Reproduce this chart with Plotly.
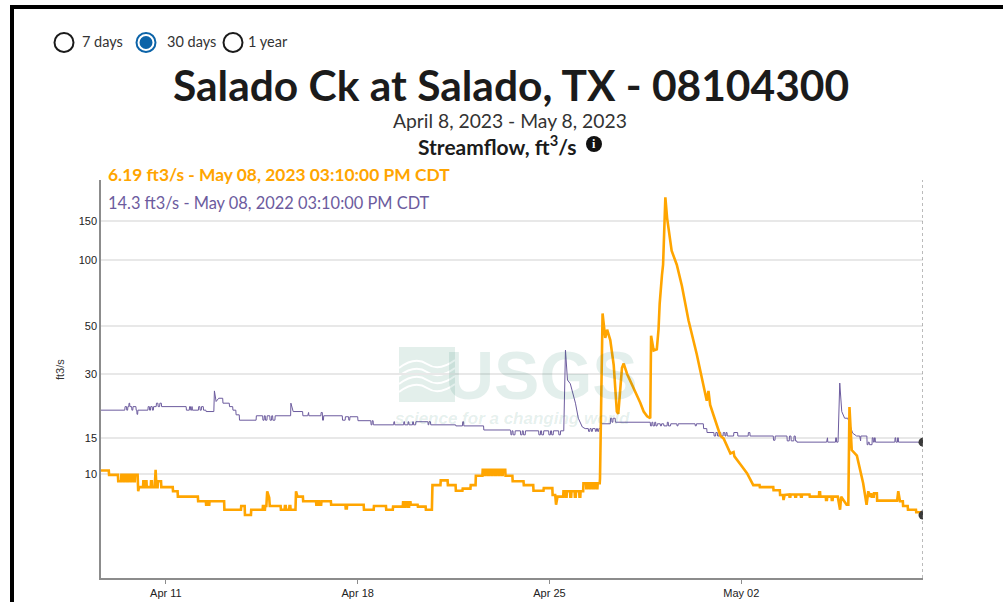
import math
import pandas as pd
import plotly.graph_objects as go

# ---------------- data ----------------
site_title = "Salado Ck at Salado, TX - 08104300"
period_text = "April 8, 2023 - May 8, 2023"
param_text = "Streamflow, ft<sup>3</sup>/s"
current_label = "6.19 ft3/s - May 08, 2023 03:10:00 PM CDT"
prior_label = "14.3 ft3/s - May 08, 2022 03:10:00 PM CDT"
period_options = ["7 days", "30 days", "1 year"]
y_tick_labels = [10, 15, 30, 50, 100, 150]
x_tick_dates = ["2023-04-11", "2023-04-18", "2023-04-25", "2023-05-02"]
x_tick_text = ["Apr 11", "Apr 18", "Apr 25", "May 02"]
x_start = "2023-04-08 15:10"
x_end = "2023-05-08 15:10"

# Streamflow 2023 (ft3/s)
flow_2023 = [
    ("2023-04-08 15:10", 10.4), ("2023-04-08 22:00", 10.4), ("2023-04-08 22:15", 9.9),
    ("2023-04-09 06:00", 9.9), ("2023-04-09 06:15", 9.2), ("2023-04-09 08:45", 9.2),
    ("2023-04-09 09:00", 9.9), ("2023-04-09 10:45", 9.9), ("2023-04-09 11:00", 9.2),
    ("2023-04-09 11:45", 9.2), ("2023-04-09 12:00", 9.9), ("2023-04-09 13:45", 9.9),
    ("2023-04-09 14:00", 9.2), ("2023-04-09 14:45", 9.2), ("2023-04-09 15:00", 9.9),
    ("2023-04-09 16:45", 9.9), ("2023-04-09 17:00", 9.2), ("2023-04-09 17:45", 9.2),
    ("2023-04-09 18:00", 9.9), ("2023-04-09 19:45", 9.9), ("2023-04-09 20:00", 9.2),
    ("2023-04-09 20:45", 9.2), ("2023-04-09 21:00", 9.9), ("2023-04-09 23:15", 9.9),
    ("2023-04-09 23:45", 8.2), ("2023-04-10 00:30", 8.6), ("2023-04-10 04:00", 8.6),
    ("2023-04-10 04:15", 9.2), ("2023-04-10 05:00", 9.2), ("2023-04-10 05:15", 8.6),
    ("2023-04-10 06:00", 8.6), ("2023-04-10 06:15", 9.2), ("2023-04-10 07:00", 9.2),
    ("2023-04-10 07:15", 8.6), ("2023-04-10 10:45", 8.6), ("2023-04-10 11:00", 9.2),
    ("2023-04-10 11:45", 9.2), ("2023-04-10 12:00", 8.6), ("2023-04-10 14:15", 8.6),
    ("2023-04-10 15:00", 10.5), ("2023-04-10 15:45", 8.6), ("2023-04-10 16:45", 8.6),
    ("2023-04-10 17:00", 9.2), ("2023-04-10 19:45", 9.2), ("2023-04-10 20:00", 8.6),
    ("2023-04-11 06:00", 8.6), ("2023-04-11 06:15", 8.2), ("2023-04-11 10:15", 8.2),
    ("2023-04-11 10:30", 7.7), ("2023-04-12 04:00", 7.7), ("2023-04-12 04:15", 7.3),
    ("2023-04-12 11:00", 7.3), ("2023-04-12 11:15", 7.0), ("2023-04-12 12:00", 7.0),
    ("2023-04-12 12:15", 7.3), ("2023-04-12 13:00", 7.3), ("2023-04-12 13:15", 7.0),
    ("2023-04-12 14:00", 7.0), ("2023-04-12 14:15", 7.3), ("2023-04-13 03:00", 7.3),
    ("2023-04-13 03:15", 6.6), ("2023-04-13 17:45", 6.6), ("2023-04-13 18:00", 6.9),
    ("2023-04-13 21:00", 6.9), ("2023-04-13 21:15", 6.2), ("2023-04-14 02:30", 6.2),
    ("2023-04-14 02:45", 6.6), ("2023-04-14 12:45", 6.6), ("2023-04-14 13:00", 6.9),
    ("2023-04-14 13:45", 6.9), ("2023-04-14 14:00", 6.6), ("2023-04-14 14:45", 6.6),
    ("2023-04-14 15:00", 6.9), ("2023-04-14 16:00", 6.9), ("2023-04-14 16:45", 8.2),
    ("2023-04-14 18:30", 7.6), ("2023-04-14 19:00", 6.9), ("2023-04-15 04:30", 6.9),
    ("2023-04-15 04:45", 6.6), ("2023-04-15 08:00", 6.6), ("2023-04-15 08:15", 6.9),
    ("2023-04-15 09:00", 6.9), ("2023-04-15 09:15", 6.6), ("2023-04-15 12:00", 6.6),
    ("2023-04-15 12:15", 6.9), ("2023-04-15 13:00", 6.9), ("2023-04-15 13:15", 6.6),
    ("2023-04-15 17:30", 6.6), ("2023-04-15 18:00", 8.2), ("2023-04-15 19:15", 7.7),
    ("2023-04-16 00:00", 7.7), ("2023-04-16 00:15", 7.3), ("2023-04-16 11:30", 7.3),
    ("2023-04-16 11:45", 7.0), ("2023-04-16 13:00", 7.0), ("2023-04-16 13:15", 7.3),
    ("2023-04-16 14:00", 7.3), ("2023-04-16 14:15", 7.0), ("2023-04-16 16:00", 7.0),
    ("2023-04-16 16:15", 7.3), ("2023-04-17 00:30", 7.3), ("2023-04-17 00:45", 7.0),
    ("2023-04-17 13:15", 7.0), ("2023-04-17 13:30", 6.7), ("2023-04-17 14:30", 6.7),
    ("2023-04-17 14:45", 7.0), ("2023-04-18 05:15", 7.0), ("2023-04-18 05:30", 6.6),
    ("2023-04-18 14:00", 6.6), ("2023-04-18 14:15", 6.9), ("2023-04-19 00:45", 6.9),
    ("2023-04-19 01:00", 6.6), ("2023-04-19 06:45", 6.6), ("2023-04-19 07:00", 6.85),
    ("2023-04-19 15:30", 6.85), ("2023-04-19 15:45", 7.2), ("2023-04-19 17:00", 7.2),
    ("2023-04-19 17:15", 6.85), ("2023-04-19 18:00", 6.85), ("2023-04-19 18:15", 7.2),
    ("2023-04-19 20:00", 7.2), ("2023-04-19 20:15", 6.85), ("2023-04-19 21:00", 6.85),
    ("2023-04-19 21:15", 7.2), ("2023-04-19 22:15", 7.2), ("2023-04-19 22:30", 7.0),
    ("2023-04-20 04:30", 7.0), ("2023-04-20 04:45", 6.85), ("2023-04-20 11:30", 6.85),
    ("2023-04-20 11:45", 6.6), ("2023-04-20 17:00", 6.6), ("2023-04-20 17:30", 8.8),
    ("2023-04-21 00:30", 8.8), ("2023-04-21 00:45", 9.3), ("2023-04-21 06:45", 9.3),
    ("2023-04-21 07:00", 8.8), ("2023-04-21 13:45", 8.8), ("2023-04-21 14:00", 8.25),
    ("2023-04-21 19:45", 8.25), ("2023-04-21 20:00", 8.45), ("2023-04-22 02:45", 8.45),
    ("2023-04-22 03:00", 8.8), ("2023-04-22 07:15", 8.8), ("2023-04-22 07:30", 9.8),
    ("2023-04-22 13:15", 9.8), ("2023-04-22 13:30", 10.5), ("2023-04-22 15:00", 10.5),
    ("2023-04-22 15:15", 9.9), ("2023-04-22 16:00", 9.9), ("2023-04-22 16:15", 10.5),
    ("2023-04-22 18:00", 10.5), ("2023-04-22 18:15", 9.9), ("2023-04-22 19:00", 9.9),
    ("2023-04-22 19:15", 10.5), ("2023-04-22 21:00", 10.5), ("2023-04-22 21:15", 9.9),
    ("2023-04-22 22:00", 9.9), ("2023-04-22 22:15", 10.5), ("2023-04-23 00:00", 10.5),
    ("2023-04-23 00:15", 9.9), ("2023-04-23 01:00", 9.9), ("2023-04-23 01:15", 10.5),
    ("2023-04-23 03:00", 10.5), ("2023-04-23 03:15", 9.9), ("2023-04-23 04:00", 9.9),
    ("2023-04-23 04:15", 10.5), ("2023-04-23 06:00", 10.5), ("2023-04-23 06:15", 9.9),
    ("2023-04-23 07:00", 9.9), ("2023-04-23 07:15", 10.5), ("2023-04-23 09:15", 10.5),
    ("2023-04-23 09:30", 9.8), ("2023-04-23 15:30", 9.8), ("2023-04-23 15:45", 9.2),
    ("2023-04-24 01:15", 9.2), ("2023-04-24 01:30", 8.8), ("2023-04-24 09:45", 8.8),
    ("2023-04-24 10:00", 8.25), ("2023-04-24 18:45", 8.25), ("2023-04-24 19:00", 8.5),
    ("2023-04-25 02:30", 8.5), ("2023-04-25 02:45", 7.85), ("2023-04-25 05:00", 7.85),
    ("2023-04-25 05:45", 7.0), ("2023-04-25 07:00", 7.7), ("2023-04-25 12:00", 7.7),
    ("2023-04-25 12:15", 8.2), ("2023-04-25 14:00", 8.2), ("2023-04-25 14:15", 7.7),
    ("2023-04-25 15:00", 7.7), ("2023-04-25 15:15", 8.2), ("2023-04-25 18:00", 8.2),
    ("2023-04-25 18:15", 7.7), ("2023-04-25 19:00", 7.7), ("2023-04-25 19:15", 8.2),
    ("2023-04-25 22:00", 8.2), ("2023-04-25 22:15", 7.7), ("2023-04-25 23:00", 7.7),
    ("2023-04-25 23:15", 8.2), ("2023-04-26 02:00", 8.2), ("2023-04-26 02:15", 7.7),
    ("2023-04-26 03:00", 7.7), ("2023-04-26 03:15", 8.2), ("2023-04-26 05:30", 8.2),
    ("2023-04-26 05:45", 9.0), ("2023-04-26 08:00", 9.0), ("2023-04-26 08:15", 8.5),
    ("2023-04-26 09:00", 8.5), ("2023-04-26 09:15", 9.0), ("2023-04-26 11:00", 9.0),
    ("2023-04-26 11:15", 8.5), ("2023-04-26 12:00", 8.5), ("2023-04-26 12:15", 9.0),
    ("2023-04-26 14:00", 9.0), ("2023-04-26 14:15", 8.5), ("2023-04-26 15:00", 8.5),
    ("2023-04-26 15:15", 9.0), ("2023-04-26 17:00", 9.0), ("2023-04-26 17:15", 8.5),
    ("2023-04-26 18:00", 8.5), ("2023-04-26 18:15", 9.0), ("2023-04-26 20:00", 9.0),
    ("2023-04-26 20:15", 9.5), ("2023-04-26 22:30", 57), ("2023-04-27 00:50", 44),
    ("2023-04-27 02:30", 48), ("2023-04-27 05:15", 43), ("2023-04-27 08:15", 33),
    ("2023-04-27 11:00", 20.0), ("2023-04-27 12:15", 19.5), ("2023-04-27 15:30", 32),
    ("2023-04-27 17:00", 33.5), ("2023-04-27 20:00", 30), ("2023-04-28 01:30", 26),
    ("2023-04-28 07:30", 22), ("2023-04-28 10:30", 20), ("2023-04-28 13:30", 19),
    ("2023-04-28 16:15", 18.6), ("2023-04-28 17:00", 45), ("2023-04-28 19:15", 38.5),
    ("2023-04-28 22:00", 39), ("2023-04-28 23:30", 48), ("2023-04-29 00:30", 63),
    ("2023-04-29 02:30", 85), ("2023-04-29 03:30", 95), ("2023-04-29 05:30", 192),
    ("2023-04-29 07:00", 155), ("2023-04-29 11:00", 110), ("2023-04-29 13:15", 101),
    ("2023-04-29 15:30", 95), ("2023-04-29 20:00", 76), ("2023-04-30 01:45", 53),
    ("2023-04-30 09:00", 37), ("2023-04-30 14:45", 27), ("2023-04-30 17:45", 22.5),
    ("2023-04-30 19:15", 25), ("2023-04-30 20:45", 21.5), ("2023-05-01 00:00", 19),
    ("2023-05-01 05:45", 15.3), ("2023-05-01 08:30", 14.9), ("2023-05-01 14:30", 12.6),
    ("2023-05-01 17:15", 12.8), ("2023-05-01 18:00", 12.2), ("2023-05-01 23:00", 11.2),
    ("2023-05-02 05:00", 10.1), ("2023-05-02 10:30", 8.8), ("2023-05-02 16:00", 8.8),
    ("2023-05-02 16:15", 8.6), ("2023-05-03 04:00", 8.6), ("2023-05-03 04:15", 8.3),
    ("2023-05-03 09:45", 8.3), ("2023-05-03 10:00", 7.85), ("2023-05-03 12:30", 7.85),
    ("2023-05-03 13:00", 7.4), ("2023-05-03 14:00", 7.85), ("2023-05-03 18:00", 7.9),
    ("2023-05-03 18:15", 7.7), ("2023-05-03 19:00", 7.7), ("2023-05-03 19:15", 7.9),
    ("2023-05-03 23:00", 7.9), ("2023-05-03 23:15", 7.7), ("2023-05-04 00:00", 7.7),
    ("2023-05-04 00:15", 7.9), ("2023-05-04 04:00", 7.9), ("2023-05-04 04:15", 7.7),
    ("2023-05-04 05:00", 7.7), ("2023-05-04 05:15", 7.9), ("2023-05-04 11:45", 7.9),
    ("2023-05-04 12:00", 7.7), ("2023-05-04 20:00", 7.7), ("2023-05-04 20:15", 8.1),
    ("2023-05-04 21:00", 8.1), ("2023-05-04 21:15", 7.7), ("2023-05-05 02:00", 7.7),
    ("2023-05-05 02:15", 7.4), ("2023-05-05 03:00", 7.4), ("2023-05-05 03:15", 7.7),
    ("2023-05-05 07:00", 7.7), ("2023-05-05 07:15", 7.4), ("2023-05-05 08:00", 7.4),
    ("2023-05-05 08:15", 7.7), ("2023-05-05 12:30", 7.7), ("2023-05-05 14:30", 6.6),
    ("2023-05-05 15:30", 7.7), ("2023-05-05 17:30", 7.4), ("2023-05-05 20:15", 7.0),
    ("2023-05-05 21:45", 7.0), ("2023-05-05 22:45", 21), ("2023-05-06 00:45", 13.1),
    ("2023-05-06 02:45", 12.8), ("2023-05-06 05:15", 12.3), ("2023-05-06 10:45", 9.0),
    ("2023-05-06 13:45", 7.0), ("2023-05-06 15:15", 8.2), ("2023-05-06 16:30", 7.7),
    ("2023-05-06 18:00", 8.0), ("2023-05-06 18:15", 7.7), ("2023-05-06 20:00", 7.7),
    ("2023-05-06 20:15", 8.0), ("2023-05-06 22:45", 8.0), ("2023-05-06 23:00", 7.35),
    ("2023-05-07 16:30", 7.35), ("2023-05-07 17:30", 8.2), ("2023-05-07 19:00", 7.3),
    ("2023-05-07 21:30", 7.3), ("2023-05-07 21:45", 6.9), ("2023-05-08 01:45", 6.9),
    ("2023-05-08 02:00", 6.6), ("2023-05-08 09:00", 6.6), ("2023-05-08 09:15", 6.4),
    ("2023-05-08 13:00", 6.4), ("2023-05-08 13:15", 6.19), ("2023-05-08 15:10", 6.19),
]

# Streamflow one year earlier, 2022 (ft3/s)
flow_2022 = [
    ("2022-04-08 15:10", 20.3), ("2022-04-09 12:00", 20.3), ("2022-04-09 12:15", 21.1),
    ("2022-04-09 13:30", 21.1), ("2022-04-09 13:45", 20.3), ("2022-04-09 14:30", 20.3),
    ("2022-04-09 14:45", 21.1), ("2022-04-09 15:30", 21.1), ("2022-04-09 15:45", 21.9),
    ("2022-04-09 16:15", 21.9), ("2022-04-09 16:30", 21.1), ("2022-04-09 18:00", 21.1),
    ("2022-04-09 18:15", 20.3), ("2022-04-09 19:00", 20.3), ("2022-04-09 19:15", 21.1),
    ("2022-04-09 21:45", 21.1), ("2022-04-09 22:00", 20.3), ("2022-04-09 22:30", 20.3),
    ("2022-04-09 22:45", 19.4), ("2022-04-09 23:15", 19.4), ("2022-04-09 23:30", 20.3),
    ("2022-04-10 08:15", 20.3), ("2022-04-10 08:30", 21.1), ("2022-04-10 09:30", 21.1),
    ("2022-04-10 09:45", 20.3), ("2022-04-10 10:30", 20.3), ("2022-04-10 10:45", 21.1),
    ("2022-04-10 12:00", 21.1), ("2022-04-10 12:15", 20.3), ("2022-04-10 13:00", 20.3),
    ("2022-04-10 13:15", 21.1), ("2022-04-10 15:30", 21.1), ("2022-04-10 15:45", 21.9),
    ("2022-04-10 17:00", 21.9), ("2022-04-10 17:15", 21.1), ("2022-04-10 18:30", 21.1),
    ("2022-04-10 18:45", 21.9), ("2022-04-10 20:00", 21.9), ("2022-04-10 20:15", 21.1),
    ("2022-04-11 17:45", 21.1), ("2022-04-11 18:00", 20.3), ("2022-04-11 20:30", 20.3),
    ("2022-04-11 20:45", 21.1), ("2022-04-11 21:30", 21.1), ("2022-04-11 21:45", 20.3),
    ("2022-04-11 22:30", 20.3), ("2022-04-11 22:45", 21.1), ("2022-04-11 23:00", 21.1),
    ("2022-04-11 23:15", 20.3), ("2022-04-12 04:30", 20.3), ("2022-04-12 04:45", 21.1),
    ("2022-04-12 05:45", 21.1), ("2022-04-12 06:00", 20.3), ("2022-04-12 07:00", 20.3),
    ("2022-04-12 07:15", 21.1), ("2022-04-12 08:45", 21.1), ("2022-04-12 09:00", 20.3),
    ("2022-04-12 11:00", 20.3), ("2022-04-12 11:15", 20.0), ("2022-04-12 18:00", 20.0),
    ("2022-04-12 18:30", 25.0), ("2022-04-12 20:00", 22.3), ("2022-04-12 22:15", 23.1),
    ("2022-04-13 01:45", 23.1), ("2022-04-13 02:00", 21.9), ("2022-04-13 07:30", 21.9),
    ("2022-04-13 07:45", 21.1), ("2022-04-13 10:30", 21.1), ("2022-04-13 10:45", 20.3),
    ("2022-04-13 13:15", 20.3), ("2022-04-13 13:30", 19.3), ("2022-04-13 16:15", 19.3),
    ("2022-04-13 16:30", 18.2), ("2022-04-14 07:00", 18.2), ("2022-04-14 07:15", 19.1),
    ("2022-04-14 12:45", 19.1), ("2022-04-14 13:00", 18.2), ("2022-04-14 14:00", 18.2),
    ("2022-04-14 14:15", 19.1), ("2022-04-14 15:00", 19.1), ("2022-04-14 15:15", 18.2),
    ("2022-04-14 16:30", 18.2), ("2022-04-14 16:45", 19.1), ("2022-04-14 19:00", 19.1),
    ("2022-04-14 19:15", 18.2), ("2022-04-14 20:30", 18.2), ("2022-04-14 20:45", 19.1),
    ("2022-04-14 21:30", 19.1), ("2022-04-14 21:45", 18.2), ("2022-04-14 23:30", 18.2),
    ("2022-04-14 23:45", 19.1), ("2022-04-15 13:15", 19.1), ("2022-04-15 13:30", 21.9),
    ("2022-04-15 15:30", 20.0), ("2022-04-15 23:45", 20.0), ("2022-04-16 00:00", 19.1),
    ("2022-04-16 04:15", 19.1), ("2022-04-16 04:30", 19.8), ("2022-04-16 05:00", 19.8),
    ("2022-04-16 05:15", 19.1), ("2022-04-16 15:45", 19.1), ("2022-04-16 16:00", 19.8),
    ("2022-04-16 17:00", 19.8), ("2022-04-16 17:15", 18.2), ("2022-04-16 18:00", 18.2),
    ("2022-04-16 18:15", 19.1), ("2022-04-17 10:30", 19.1), ("2022-04-17 10:45", 18.2),
    ("2022-04-17 13:00", 18.2), ("2022-04-17 13:15", 18.9), ("2022-04-17 16:00", 18.9),
    ("2022-04-17 16:15", 18.2), ("2022-04-17 17:00", 18.2), ("2022-04-17 17:15", 18.9),
    ("2022-04-18 00:00", 18.9), ("2022-04-18 00:15", 18.1), ("2022-04-18 11:30", 18.1),
    ("2022-04-18 11:45", 17.3), ("2022-04-18 12:30", 17.3), ("2022-04-18 12:45", 18.1),
    ("2022-04-18 13:30", 18.1), ("2022-04-18 13:45", 17.3), ("2022-04-19 07:30", 17.3),
    ("2022-04-19 07:45", 17.9), ("2022-04-19 08:15", 17.9), ("2022-04-19 08:30", 17.3),
    ("2022-04-19 16:15", 17.3), ("2022-04-19 16:30", 17.9), ("2022-04-19 17:00", 17.9),
    ("2022-04-19 17:15", 17.3), ("2022-04-19 20:00", 17.3), ("2022-04-19 20:15", 17.9),
    ("2022-04-19 20:45", 17.9), ("2022-04-19 21:00", 17.3), ("2022-04-20 00:00", 17.3),
    ("2022-04-20 00:15", 17.9), ("2022-04-20 00:45", 17.9), ("2022-04-20 01:00", 17.3),
    ("2022-04-20 02:45", 17.3), ("2022-04-20 03:00", 17.9), ("2022-04-20 13:30", 17.9),
    ("2022-04-20 13:45", 17.3), ("2022-04-20 14:15", 17.3), ("2022-04-20 14:30", 17.9),
    ("2022-04-20 15:45", 17.9), ("2022-04-20 16:00", 17.3), ("2022-04-21 13:45", 17.3),
    ("2022-04-21 14:00", 17.1), ("2022-04-21 19:45", 17.1), ("2022-04-21 20:00", 17.9),
    ("2022-04-21 20:45", 17.9), ("2022-04-21 21:00", 17.1), ("2022-04-22 14:15", 17.1),
    ("2022-04-22 14:30", 16.35), ("2022-04-23 13:45", 16.35), ("2022-04-23 14:00", 16.2),
    ("2022-04-23 14:15", 15.5), ("2022-04-23 15:00", 15.5), ("2022-04-23 15:15", 16.2),
    ("2022-04-23 16:00", 16.2), ("2022-04-23 16:15", 15.5), ("2022-04-23 17:45", 15.5),
    ("2022-04-23 18:00", 16.2), ("2022-04-23 22:30", 16.2), ("2022-04-23 22:45", 15.5),
    ("2022-04-24 00:00", 15.5), ("2022-04-24 00:15", 16.2), ("2022-04-24 01:00", 16.2),
    ("2022-04-24 01:15", 15.5), ("2022-04-24 02:45", 15.5), ("2022-04-24 03:00", 16.2),
    ("2022-04-24 14:30", 16.2), ("2022-04-24 14:45", 15.5), ("2022-04-24 16:00", 15.5),
    ("2022-04-24 16:15", 16.2), ("2022-04-24 17:00", 16.2), ("2022-04-24 17:15", 15.5),
    ("2022-04-24 18:45", 15.5), ("2022-04-24 19:00", 16.2), ("2022-04-24 23:15", 16.2),
    ("2022-04-24 23:30", 15.5), ("2022-04-25 00:45", 15.5), ("2022-04-25 01:00", 16.2),
    ("2022-04-25 01:45", 16.2), ("2022-04-25 02:00", 15.5), ("2022-04-25 03:15", 15.5),
    ("2022-04-25 03:30", 16.2), ("2022-04-25 08:00", 16.2), ("2022-04-25 08:15", 15.5),
    ("2022-04-25 09:30", 15.5), ("2022-04-25 09:45", 16.2), ("2022-04-25 12:30", 16.2),
    ("2022-04-25 14:00", 38.7), ("2022-04-25 15:45", 28.1), ("2022-04-25 18:15", 27.0),
    ("2022-04-25 22:45", 21.9), ("2022-04-26 01:15", 18.6), ("2022-04-26 04:45", 16.9),
    ("2022-04-26 07:15", 16.6), ("2022-04-26 10:00", 16.6), ("2022-04-26 10:15", 16.1),
    ("2022-04-26 11:15", 16.1), ("2022-04-26 11:30", 16.6), ("2022-04-26 12:30", 16.6),
    ("2022-04-26 12:45", 16.1), ("2022-04-26 13:30", 16.1), ("2022-04-26 13:45", 16.6),
    ("2022-04-26 16:00", 16.6), ("2022-04-26 16:15", 16.1), ("2022-04-26 17:00", 16.1),
    ("2022-04-26 17:15", 16.6), ("2022-04-26 18:00", 16.6), ("2022-04-26 18:15", 16.1),
    ("2022-04-26 19:00", 16.1), ("2022-04-26 19:15", 16.6), ("2022-04-26 20:30", 16.6),
    ("2022-04-26 20:45", 17.5), ("2022-04-27 05:15", 17.5), ("2022-04-27 05:30", 18.6),
    ("2022-04-27 06:30", 18.6), ("2022-04-27 06:45", 17.8), ("2022-04-27 07:30", 17.8),
    ("2022-04-27 07:45", 18.6), ("2022-04-27 09:30", 18.6), ("2022-04-27 09:45", 17.8),
    ("2022-04-28 16:15", 17.8), ("2022-04-28 16:30", 17.1), ("2022-04-28 17:30", 17.1),
    ("2022-04-28 17:45", 17.8), ("2022-04-28 18:30", 17.8), ("2022-04-28 18:45", 17.1),
    ("2022-04-28 20:00", 17.1), ("2022-04-28 20:15", 17.8), ("2022-04-28 21:00", 17.8),
    ("2022-04-28 21:15", 17.1), ("2022-04-28 22:15", 17.1), ("2022-04-28 22:30", 17.5),
    ("2022-04-29 01:00", 17.5), ("2022-04-29 01:15", 17.1), ("2022-04-29 02:00", 17.1),
    ("2022-04-29 02:15", 17.5), ("2022-04-29 04:00", 17.5), ("2022-04-29 04:15", 17.1),
    ("2022-04-29 07:00", 17.1), ("2022-04-29 07:15", 17.8), ("2022-04-29 08:00", 17.8),
    ("2022-04-29 08:15", 17.1), ("2022-04-29 10:00", 17.1), ("2022-04-29 10:15", 17.5),
    ("2022-04-29 15:30", 17.5), ("2022-04-29 15:45", 17.1), ("2022-04-29 16:30", 17.1),
    ("2022-04-29 16:45", 17.5), ("2022-04-30 07:30", 17.5), ("2022-04-30 07:45", 17.1),
    ("2022-04-30 08:30", 17.1), ("2022-04-30 08:45", 17.5), ("2022-04-30 14:45", 17.5),
    ("2022-04-30 15:00", 16.6), ("2022-04-30 17:45", 16.6), ("2022-04-30 18:00", 15.9),
    ("2022-05-01 00:00", 15.9), ("2022-05-01 00:15", 15.3), ("2022-05-01 01:30", 15.3),
    ("2022-05-01 01:45", 15.9), ("2022-05-01 03:00", 15.9), ("2022-05-01 03:15", 15.3),
    ("2022-05-01 04:30", 15.3), ("2022-05-01 04:45", 15.9), ("2022-05-01 06:00", 15.9),
    ("2022-05-01 06:15", 15.3), ("2022-05-01 08:00", 15.3), ("2022-05-01 08:15", 15.9),
    ("2022-05-01 09:30", 15.9), ("2022-05-01 09:45", 15.3), ("2022-05-01 10:30", 15.3),
    ("2022-05-01 10:45", 15.9), ("2022-05-01 11:30", 15.9), ("2022-05-01 11:45", 15.3),
    ("2022-05-01 17:15", 15.3), ("2022-05-01 17:30", 15.9), ("2022-05-01 20:45", 15.9),
    ("2022-05-01 21:00", 15.3), ("2022-05-02 06:00", 15.3), ("2022-05-02 06:15", 15.9),
    ("2022-05-02 07:30", 15.9), ("2022-05-02 07:45", 15.3), ("2022-05-03 04:00", 15.3),
    ("2022-05-03 04:15", 14.6), ("2022-05-03 05:30", 14.6), ("2022-05-03 05:45", 15.3),
    ("2022-05-03 16:00", 15.3), ("2022-05-03 16:15", 14.5), ("2022-05-03 18:00", 14.5),
    ("2022-05-03 18:15", 15.3), ("2022-05-03 19:30", 15.3), ("2022-05-03 19:45", 14.5),
    ("2022-05-03 22:00", 14.5), ("2022-05-03 22:15", 15.3), ("2022-05-03 23:15", 15.3),
    ("2022-05-03 23:30", 14.5), ("2022-05-04 00:30", 14.5), ("2022-05-04 00:45", 14.3),
    ("2022-05-05 02:45", 14.3), ("2022-05-05 03:00", 15.0), ("2022-05-05 03:30", 15.0),
    ("2022-05-05 03:45", 14.3), ("2022-05-05 10:30", 14.3), ("2022-05-05 10:45", 15.0),
    ("2022-05-05 11:15", 15.0), ("2022-05-05 11:30", 14.3), ("2022-05-05 12:45", 14.3),
    ("2022-05-05 14:15", 27.2), ("2022-05-05 16:00", 20.0), ("2022-05-05 18:30", 18.6),
    ("2022-05-05 21:15", 18.6), ("2022-05-06 01:30", 15.8), ("2022-05-06 05:00", 15.3),
    ("2022-05-06 07:45", 15.3), ("2022-05-06 08:00", 14.5), ("2022-05-06 08:30", 14.5),
    ("2022-05-06 08:45", 15.3), ("2022-05-06 14:00", 15.3), ("2022-05-06 14:15", 13.9),
    ("2022-05-06 15:00", 13.9), ("2022-05-06 15:15", 14.3), ("2022-05-06 16:00", 14.3),
    ("2022-05-06 16:15", 13.9), ("2022-05-06 18:30", 13.9), ("2022-05-06 18:45", 15.0),
    ("2022-05-06 19:30", 15.0), ("2022-05-06 19:45", 14.3), ("2022-05-06 20:30", 14.3),
    ("2022-05-06 20:45", 15.0), ("2022-05-06 21:15", 15.0), ("2022-05-06 21:30", 14.3),
    ("2022-05-07 14:30", 14.3), ("2022-05-07 14:45", 15.0), ("2022-05-07 15:15", 15.0),
    ("2022-05-07 15:30", 14.3), ("2022-05-07 16:45", 14.3), ("2022-05-07 17:00", 15.0),
    ("2022-05-07 17:30", 15.0), ("2022-05-07 17:45", 14.3), ("2022-05-08 15:10", 14.3),
]

# ---------------- styling ----------------
ORANGE = "#ffa500"
PURPLE = "#6c5b9e"
TEXT = "#222222"
WM = "rgba(0,110,80,0.11)"
W, H = 1003, 602
ML, MR, MT, MB = 101, 80, 180, 24
PW, PH = W - ML - MR, H - MT - MB


def px(x):
    return (x - ML) / PW


def py(y):
    return (H - MB - y) / PH


t23 = pd.to_datetime([t for t, _ in flow_2023])
q23 = [v for _, v in flow_2023]
# previous year plotted on the current year's calendar
t22 = pd.to_datetime([t for t, _ in flow_2022]) + pd.DateOffset(years=1)
q22 = [v for _, v in flow_2022]

# symmetric-log scale (constant 1): position = log10(1 + q)
fig = go.Figure()
fig.add_trace(go.Scatter(
    x=t22, y=[v + 1 for v in q22], customdata=q22, mode="lines",
    line=dict(color=PURPLE, width=1), hovertemplate="%{customdata} ft3/s<extra></extra>"))
fig.add_trace(go.Scatter(
    x=t23, y=[v + 1 for v in q23], customdata=q23, mode="lines",
    line=dict(color=ORANGE, width=2.6), hovertemplate="%{customdata} ft3/s<extra></extra>"))
fig.add_trace(go.Scatter(
    x=[t22[-1], t23[-1]], y=[q22[-1] + 1, q23[-1] + 1], mode="markers",
    marker=dict(color="#3a3a3a", size=9), hoverinfo="skip"))

y_lo = math.log10(11) - 104 / 222.4
y_hi = math.log10(11) + 294 / 222.4

fig.update_layout(
    width=W, height=H, margin=dict(l=ML, r=MR, t=MT, b=MB, autoexpand=False),
    paper_bgcolor="white", plot_bgcolor="white", showlegend=False,
    font=dict(family="Liberation Sans, Arial, sans-serif", size=11, color=TEXT),
    xaxis=dict(
        range=[pd.Timestamp(x_start), pd.Timestamp(x_end)], automargin=False,
        tickvals=pd.to_datetime(x_tick_dates), ticktext=x_tick_text,
        showgrid=False, zeroline=False, showline=True, linecolor="#8c8c8c", linewidth=1.5,
        ticks="outside", ticklen=4, tickcolor="#8c8c8c", tickfont=dict(size=11, color="#222"),
    ),
    yaxis=dict(
        type="log", range=[y_lo, y_hi], automargin=False,
        tickvals=[v + 1 for v in y_tick_labels], ticktext=[str(v) for v in y_tick_labels],
        showgrid=True, gridcolor="#e8e8e8", gridwidth=1.5, zeroline=False,
        showline=True, linecolor="#8c8c8c", linewidth=1.5, ticks="",
        tickfont=dict(size=11, color="#222"),
    ),
)

shapes = []
# faint USGS logo block (watermark), below the data
shapes.append(dict(type="rect", xref="paper", yref="paper", layer="below",
                   x0=px(399), x1=px(455), y0=py(402), y1=py(347),
                   line=dict(width=0), fillcolor="#e3efeb"))
for k in range(4):
    yy = 362 + k * 8
    shapes.append(dict(type="path", xref="paper", yref="paper", layer="below",
                       path=f"M {px(399)},{py(yy + 6)} Q {px(415)},{py(yy - 6)} {px(427)},{py(yy + 2)} "
                            f"T {px(455)},{py(yy - 2)}",
                       line=dict(color="white", width=2)))
# end-of-record dashed marker line
shapes.append(dict(type="line", xref="x", yref="paper", x0=pd.Timestamp(x_end), x1=pd.Timestamp(x_end),
                   y0=0, y1=1, line=dict(color="#777", width=1, dash="3px,3px")))
# page frame (black borders)
shapes.append(dict(type="line", xref="paper", yref="paper", x0=px(10), x1=px(1003), y0=py(7), y1=py(7),
                   line=dict(color="black", width=4)))
shapes.append(dict(type="line", xref="paper", yref="paper", x0=px(12), x1=px(12), y0=py(5), y1=py(602),
                   line=dict(color="black", width=4)))
# radio buttons
radio_x = [64, 146, 233]
for i, cx in enumerate(radio_x):
    r = 9.5
    if i == 1:
        shapes.append(dict(type="circle", xref="paper", yref="paper",
                           x0=px(cx - r), x1=px(cx + r), y0=py(42.5 + r), y1=py(42.5 - r),
                           line=dict(color="#0b63a8", width=2), fillcolor="white"))
        r2 = 6.5
        shapes.append(dict(type="circle", xref="paper", yref="paper",
                           x0=px(cx - r2), x1=px(cx + r2), y0=py(42.5 + r2), y1=py(42.5 - r2),
                           line=dict(width=0), fillcolor="#0b63a8"))
    else:
        shapes.append(dict(type="circle", xref="paper", yref="paper",
                           x0=px(cx - r), x1=px(cx + r), y0=py(42.5 + r), y1=py(42.5 - r),
                           line=dict(color="#1a1a1a", width=2), fillcolor="white"))
# info icon
shapes.append(dict(type="circle", xref="paper", yref="paper",
                   x0=px(586), x1=px(602), y0=py(152), y1=py(136),
                   line=dict(width=0), fillcolor="#111"))
fig.update_layout(shapes=shapes)

ann = []
label_x = [80, 165, 246]
for lx, lab in zip(label_x, period_options):
    ann.append(dict(text=lab, x=px(lx), y=py(42), xref="paper", yref="paper", xanchor="left",
                    yanchor="middle", showarrow=False,
                    font=dict(family="Lato, sans-serif", size=14.5, color="#333")))
ann.append(dict(text="<b>" + site_title + "</b>", x=px(511), y=py(84), xref="paper", yref="paper",
                xanchor="center", yanchor="middle", showarrow=False,
                font=dict(family="Lato, sans-serif", size=42.5, color="#1b1b1b")))
ann.append(dict(text=period_text, x=px(510), y=py(120), xref="paper", yref="paper",
                xanchor="center", yanchor="middle", showarrow=False,
                font=dict(family="Lato, sans-serif", size=19.3, color="#333")))
ann.append(dict(text="<b>" + param_text + "</b>", x=px(497), y=py(145), xref="paper", yref="paper",
                xanchor="center", yanchor="middle", showarrow=False,
                font=dict(family="Lato, sans-serif", size=21, color="#1b1b1b")))
ann.append(dict(text="<b>i</b>", x=px(594), y=py(144), xref="paper", yref="paper",
                xanchor="center", yanchor="middle", showarrow=False,
                font=dict(family="Liberation Serif, serif", size=12, color="white")))
ann.append(dict(text="<b>" + current_label + "</b>", x=px(106), y=py(174), xref="paper", yref="paper",
                xanchor="left", yanchor="middle", showarrow=False,
                font=dict(family="Lato, sans-serif", size=17.4, color=ORANGE)))
ann.append(dict(text=prior_label, x=px(106), y=py(202), xref="paper", yref="paper",
                xanchor="left", yanchor="middle", showarrow=False,
                font=dict(family="Lato, sans-serif", size=16.4, color=PURPLE)))
ann.append(dict(text="ft3/s", x=px(60), y=py(370), xref="paper", yref="paper", textangle=-90,
                xanchor="center", yanchor="middle", showarrow=False,
                font=dict(family="Liberation Sans, Arial, sans-serif", size=11, color="#333")))
# faint USGS watermark text
ann.append(dict(text="<b>USGS</b>", x=px(541), y=py(375), xref="paper", yref="paper",
                xanchor="center", yanchor="middle", showarrow=False,
                font=dict(family="Liberation Sans Narrow, Liberation Sans, sans-serif", size=68, color=WM)))
ann.append(dict(text="<b><i>science for a changing world</i></b>", x=px(512), y=py(418), xref="paper",
                yref="paper", xanchor="center", yanchor="middle", showarrow=False,
                font=dict(family="Liberation Sans Narrow, Liberation Sans, sans-serif", size=17, color=WM)))
fig.update_layout(annotations=ann)

fig.write_html("out.html", config={"displayModeBar": False})

# remove the browser's default page margin so the figure sits at the window's top-left corner
with open("out.html", encoding="utf-8") as f:
    html = f.read()
html = html.replace("<head>", "<head><style>html,body{margin:0;padding:0;overflow:hidden;}</style>", 1)
with open("out.html", "w", encoding="utf-8") as f:
    f.write(html)
